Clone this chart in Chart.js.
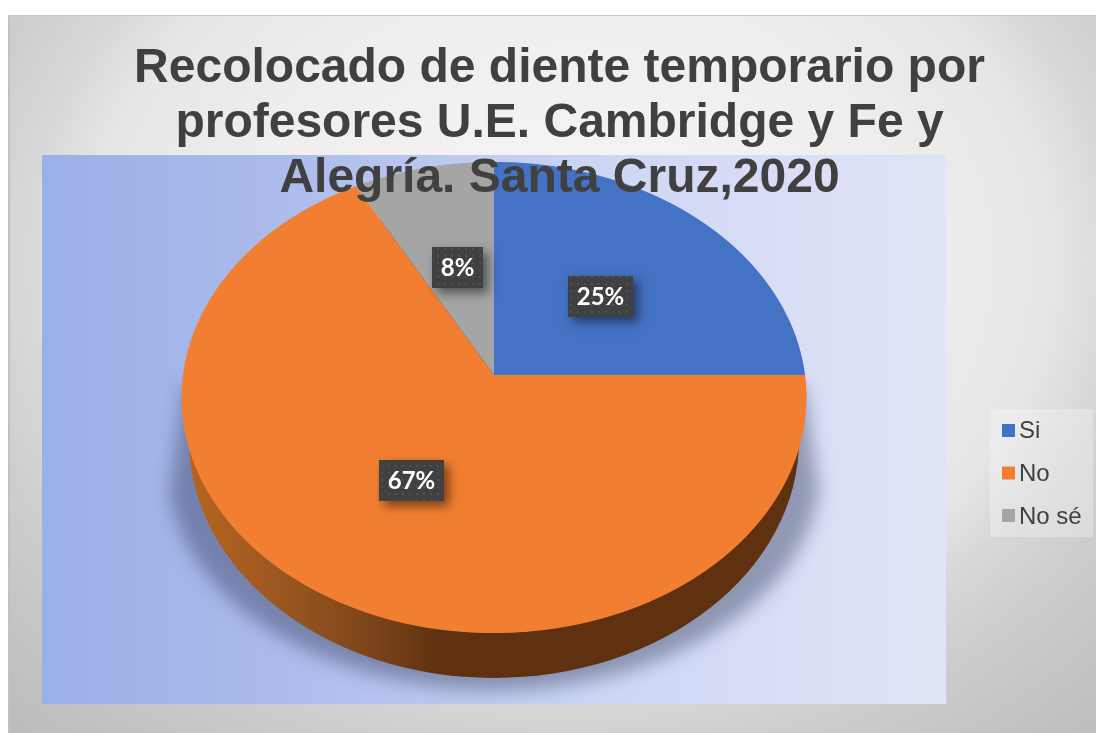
<!DOCTYPE html>
<html>
<head>
<meta charset="utf-8">
<script src="https://cdn.jsdelivr.net/npm/chart.js@4"></script>
<style>
html,body{margin:0;padding:0;background:#fff;width:1096px;height:733px;overflow:hidden}
#frame{position:absolute;left:8px;top:15px;width:1088px;height:718px;box-sizing:border-box;
  border-left:2px solid #c2c2c2;border-top:1px solid #cacaca;
  background:radial-gradient(ellipse 800px 640px at 560px 245px,#f6f6f6 0%,#eeeeee 42%,#e6e6e6 60%,#d8d8d8 68%,#cdcdcd 78%,#bcbcbc 100%);}
canvas{position:absolute;left:0;top:0}
</style>
</head>
<body>
<div id="frame"></div>
<canvas id="c" width="1096" height="733"></canvas>
<script>
const titleLines = ["Recolocado de diente temporario por","profesores U.E. Cambridge y Fe y","Alegría. Santa Cruz,2020"];
const categories = ["Si","No","No sé"];
const percentValues = [25,67,8];
const sliceColors = ["#4472C4","#F27F31","#A5A5A5"];

// perspective of the tilted disc
const P = {cx:494, cy:375, a:311, b:233.4, k:0.0955};
const PLOT = {x:42, y:155, w:904, h:549};

function project(chart, arc, px, py){
  const u=(px-arc.x)/arc.outerRadius, v=(py-arc.y)/arc.outerRadius, w=1-P.k*v;
  return {x:P.cx+P.a*u/w, y:P.cy+P.b*v/w};
}

const tiltedPie = {
  id:'tiltedPie',
  beforeUpdate(chart){
    const t=chart.titleBlock;
    if(t) t._layers=()=>[{z:1,draw(){t.draw();}}];
  },
  afterLayout(chart){
    const l=chart.legend;
    l.left=988; l.right=1093; l.top=400; l.bottom=570;
  },
  beforeDraw(chart){
    const ctx=chart.ctx;
    ctx.save();
    const g=ctx.createLinearGradient(PLOT.x,0,PLOT.x+PLOT.w,0);
    g.addColorStop(0,'#9BAFE8'); g.addColorStop(.25,'#AABAEB');
    g.addColorStop(.6,'#CBD5F3'); g.addColorStop(.8,'#D8DDF6'); g.addColorStop(1,'#DFE4F6');
    ctx.fillStyle=g; ctx.fillRect(PLOT.x,PLOT.y,PLOT.w,PLOT.h);
    ctx.fillStyle='rgba(255,255,255,.28)'; ctx.fillRect(990,409,103,128);
    ctx.restore();
  },
  beforeDatasetsDraw(chart){
    const ctx=chart.ctx, arcs=chart.getDatasetMeta(0).data;
    // cast shadow
    ctx.save();
    ctx.beginPath(); ctx.rect(PLOT.x,PLOT.y,PLOT.w,PLOT.h); ctx.clip();
    ctx.filter='blur(9px)';
    ctx.fillStyle='rgba(45,55,85,.42)';
    ctx.beginPath();
    ctx.moveTo(184,385); ctx.lineTo(168,505);
    ctx.ellipse(494,470,326,220,0,Math.PI*.97,Math.PI*.03,true);
    ctx.lineTo(804,385); ctx.closePath(); ctx.fill();
    ctx.restore();
    // side wall
    ctx.save();
    const wg=ctx.createLinearGradient(185,0,810,0);
    wg.addColorStop(0,'#B8651F'); wg.addColorStop(.15,'#9C5720');
    wg.addColorStop(.28,'#80471B'); wg.addColorStop(.41,'#5F3110'); wg.addColorStop(1,'#5F3110');
    ctx.fillStyle=wg;
    ctx.beginPath(); ctx.ellipse(494,440,305,238,0,0,Math.PI*2); ctx.fill();
    ctx.restore();
    // top face, one pixel row at a time through the perspective
    const a0=arcs[0], R=a0.outerRadius;
    for(let Y=155;Y<640;Y++){
      const d=Y+.5-P.cy, v=d/(P.b+P.k*d), w=1-P.k*v;
      if(Math.abs(v)>1.001) continue;
      const sx=P.a/w/R, sy=P.b/(w*w)/R;
      ctx.save();
      ctx.beginPath(); ctx.rect(150,Y,700,1); ctx.clip();
      ctx.setTransform(sx,0,0,sy,P.cx-sx*a0.x,Y+.5-sy*(a0.y+v*R));
      arcs.forEach(arc=>arc.draw(ctx));
      ctx.restore();
    }
    return false;
  },
  afterDraw(chart){
    const ctx=chart.ctx, arcs=chart.getDatasetMeta(0).data;
    // legend swatches
    ctx.save();
    chart.legend.legendItems.forEach((it,i)=>{
      ctx.fillStyle=it.fillStyle; ctx.fillRect(1002,424+i*42.5,13,13);
    });
    ctx.restore();
    // data labels
    const pc=document.createElement('canvas'); pc.width=pc.height=7;
    const p=pc.getContext('2d'); p.fillStyle='#404040'; p.fillRect(0,0,7,7);
    p.fillStyle='rgba(255,255,255,.09)'; p.fillRect(3,3,2,2);
    const pat=ctx.createPattern(pc,'repeat');
    arcs.forEach((arc,i)=>{
      const c=arc.getCenterPoint(), q=project(chart,arc,c.x,c.y);
      const txt=percentValues[i]+'%';
      ctx.save();
      ctx.font='bold 24px Lato';
      const w=Math.round(ctx.measureText(txt).width+17), h=41;
      const x=Math.round(q.x-w/2), y=Math.round(q.y-h/2)+1;
      ctx.shadowColor='rgba(0,0,0,.5)'; ctx.shadowBlur=10; ctx.shadowOffsetX=5; ctx.shadowOffsetY=5;
      ctx.fillStyle='#404040'; ctx.fillRect(x,y,w,h);
      ctx.shadowColor='transparent';
      ctx.fillStyle=pat; ctx.fillRect(x,y,w,h);
      ctx.fillStyle='#fff'; ctx.textAlign='center'; ctx.textBaseline='middle';
      ctx.fillText(txt,x+w/2,y+h/2+1);
      ctx.restore();
    });
  }
};

new Chart(document.getElementById('c'),{
  type:'pie',
  data:{labels:categories,datasets:[{data:percentValues,backgroundColor:sliceColors,borderWidth:0}]},
  plugins:[tiltedPie],
  options:{
    responsive:false,animation:false,
    layout:{padding:{left:23,right:0,top:0,bottom:0}},
    plugins:{
      tooltip:{enabled:false},
      title:{display:true,text:titleLines,color:'#404040',align:'center',
        font:{family:'"Liberation Sans"',size:48,weight:'bold',lineHeight:1.146},
        padding:{top:41,bottom:0}},
      legend:{position:'right',align:'start',
        labels:{boxWidth:0,boxHeight:0,padding:19,color:'#404040',
          font:{family:'"Liberation Sans"',size:24}}}
    }
  }
});
</script>
</body>
</html>
